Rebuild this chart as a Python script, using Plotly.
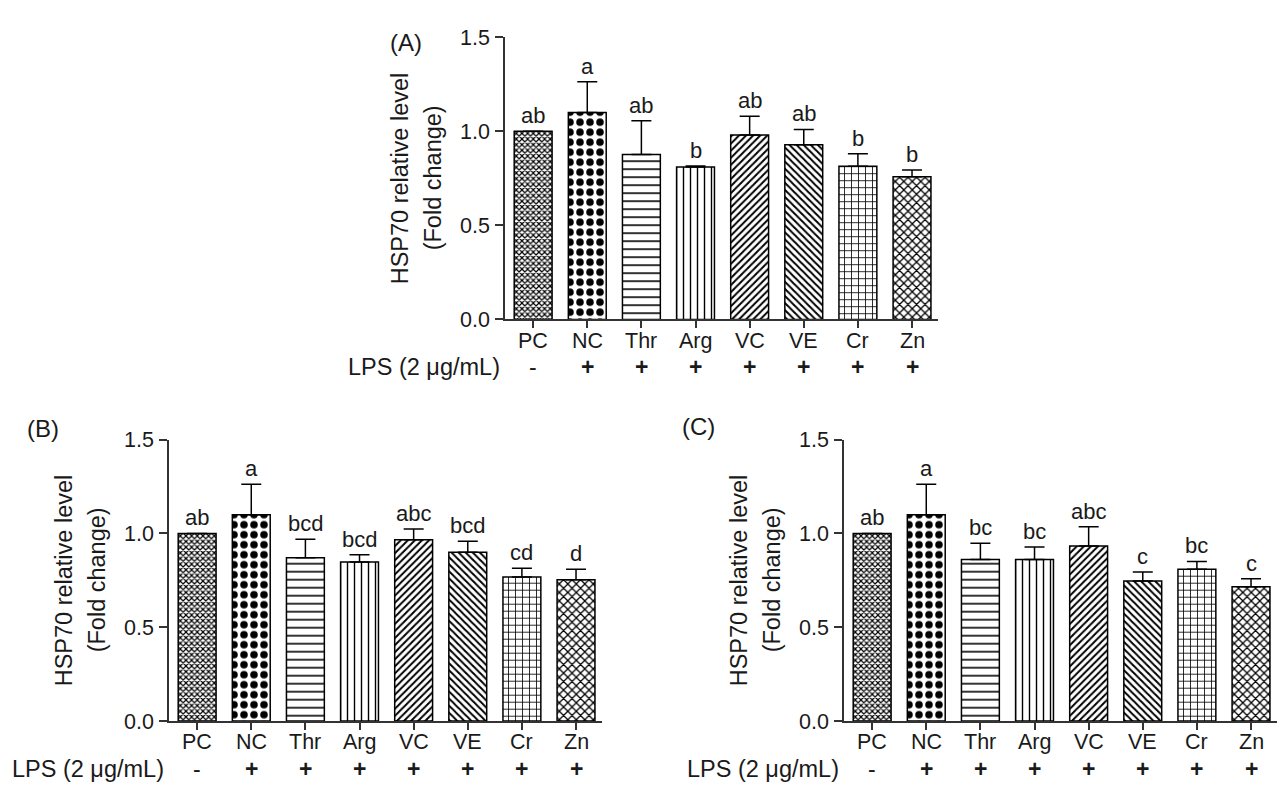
import plotly.graph_objects as go

W, H = 1283, 798

groups = ["PC", "NC", "Thr", "Arg", "VC", "VE", "Cr", "Zn"]
lps = ["-", "+", "+", "+", "+", "+", "+", "+"]

a_mean = [1.00, 1.10, 0.876, 0.81, 0.98, 0.928, 0.814, 0.758]
a_err = [0.0, 0.163, 0.18, 0.005, 0.10, 0.082, 0.067, 0.036]
a_lab = ["ab", "a", "ab", "b", "ab", "ab", "b", "b"]

b_mean = [1.00, 1.10, 0.871, 0.848, 0.967, 0.90, 0.768, 0.753]
b_err = [0.0, 0.163, 0.098, 0.038, 0.057, 0.059, 0.046, 0.056]
b_lab = ["ab", "a", "bcd", "bcd", "abc", "bcd", "cd", "d"]

c_mean = [1.00, 1.10, 0.861, 0.861, 0.933, 0.747, 0.809, 0.716]
c_err = [0.0, 0.163, 0.087, 0.067, 0.103, 0.047, 0.042, 0.042]
c_lab = ["ab", "a", "bc", "bc", "abc", "c", "bc", "c"]

y_ticks = [0.0, 0.5, 1.0, 1.5]
y_title1 = "HSP70 relative level"
y_title2 = "(Fold change)"
lps_label = "LPS (2 \u03bcg/mL)"

shapes = ["x", ".", "-", "|", "/", "\\", "+", "x"]
sizes = [4, 10, 8, 7, 5, 5, 7, 6]
solids = [0.5, 0.45, 0.2, 0.2, 0.4, 0.4, 0.22, 0.38]

FONT = "Arial, Liberation Sans, sans-serif"
TXT = "#1a1a1a"
AX = "#333"

def px(x):
    return x / W

def py(y):
    return 1 - y / H

# panel geometry in pixels: (x0, x1, ybottom, ytop)
panels = [
    ("A", a_mean, a_err, a_lab, 505, 938, 318, 27),
    ("B", b_mean, b_err, b_lab, 169, 602, 732, 442),
    ("C", c_mean, c_err, c_lab, 844, 1277, 732, 442),
]

fig = go.Figure()
annotations = []
layout = {}

for i, (name, mean, err, lab, x0, x1, yb, yt) in enumerate(panels):
    sfx = "" if i == 0 else str(i + 1)
    xa, ya = "x" + sfx, "y" + sfx
    fig.add_trace(go.Bar(
        x=list(range(len(groups))), y=mean, xaxis=xa, yaxis=ya, width=0.7,
        marker=dict(color="white", line=dict(color="black", width=1.5),
                    pattern=dict(shape=shapes, size=sizes, solidity=solids,
                                 fgcolor="black", bgcolor="white", fgopacity=1)),
        error_y=dict(type="data", symmetric=False, array=err,
                     arrayminus=[0] * len(err), color="black",
                     thickness=1.5, width=10),
        showlegend=False, hoverinfo="skip",
    ))
    layout["xaxis" + sfx] = dict(
        domain=[px(x0), px(x1)], anchor=ya, range=[-0.52, 7.48],
        tickvals=list(range(len(groups))), showticklabels=False,
        showline=True, linecolor=AX, linewidth=1.5, ticks="outside",
        ticklen=7, tickwidth=1.5, tickcolor=AX, showgrid=False, zeroline=False,
        fixedrange=True,
    )
    layout["yaxis" + sfx] = dict(
        domain=[py(yb), py(yt)], anchor=xa, range=[0, 1.5],
        tickvals=y_ticks, ticktext=["%.1f" % v for v in y_ticks],
        showline=True, linecolor=AX, linewidth=1.5, ticks="outside",
        ticklen=8, tickwidth=1.5, tickcolor=AX, showgrid=False, zeroline=False,
        tickfont=dict(family=FONT, size=21.5, color=TXT), ticklabelstandoff=1,
        fixedrange=True,
    )
    for k, (g, m, e, l, s) in enumerate(zip(groups, mean, err, lab, lps)):
        # significance letters
        annotations.append(dict(x=k, y=m + e, xref=xa, yref=ya, text=l,
                                showarrow=False, yanchor="bottom", yshift=1,
                                font=dict(family=FONT, size=22, color=TXT)))
        # category labels
        annotations.append(dict(x=k, y=py(yb + 22), xref=xa, yref="paper", text=g,
                                showarrow=False, yanchor="middle",
                                font=dict(family=FONT, size=21.5, color=TXT)))
        # LPS row
        annotations.append(dict(x=k, y=py(yb + 49), xref=xa, yref="paper",
                                text="<b>" + s + "</b>" if s == "+" else s,
                                showarrow=False, yanchor="middle",
                                font=dict(family=FONT, size=23, color=TXT)))
    annotations.append(dict(x=px(x0 - 3), y=py(yb + 49), xref="paper", yref="paper",
                            text=lps_label, showarrow=False, xanchor="right", yanchor="middle",
                            font=dict(family=FONT, size=23.5, color=TXT)))
    # y-axis titles
    yc = py((yb + yt) / 2)
    annotations.append(dict(x=px(x0 - 105), y=yc, xref="paper", yref="paper", text=y_title1,
                            textangle=-90, showarrow=False, xanchor="center", yanchor="middle",
                            font=dict(family=FONT, size=23.5, color=TXT)))
    annotations.append(dict(x=px(x0 - 72), y=yc, xref="paper", yref="paper", text=y_title2,
                            textangle=-90, showarrow=False, xanchor="center", yanchor="middle",
                            font=dict(family=FONT, size=23.5, color=TXT)))

# panel letters
annotations.append(dict(x=px(388), y=py(17), xref="paper", yref="paper", text="(A)",
                        showarrow=False, font=dict(family=FONT, size=24, color=TXT)))
annotations.append(dict(x=px(25), y=py(430), xref="paper", yref="paper", text="(B)",
                        showarrow=False, font=dict(family=FONT, size=24, color=TXT)))
annotations.append(dict(x=px(698), y=py(428), xref="paper", yref="paper", text="(C)",
                        showarrow=False, font=dict(family=FONT, size=24, color=TXT)))

fig.update_layout(
    width=W, height=H, margin=dict(l=0, r=0, t=0, b=0),
    paper_bgcolor="white", plot_bgcolor="white",
    annotations=annotations, bargap=0.3, **layout,
)

fig.write_html("out.html", config={"displayModeBar": False})
